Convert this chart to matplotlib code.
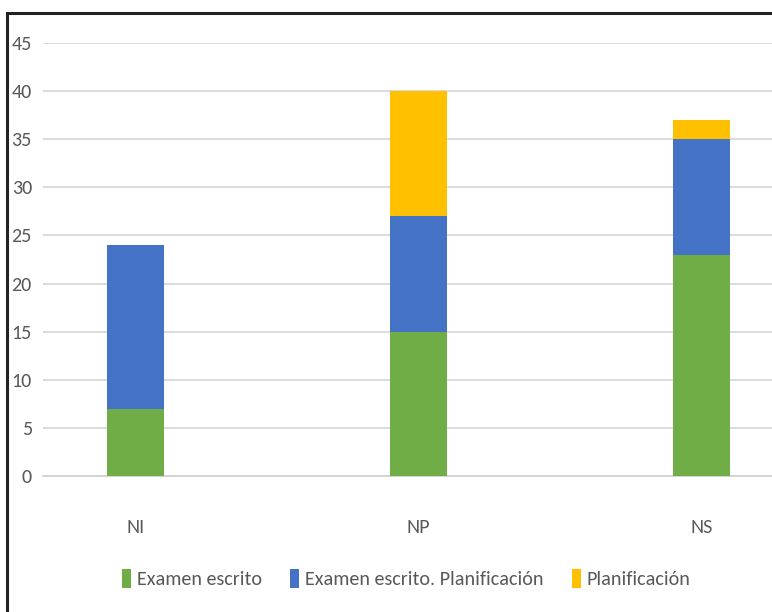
import matplotlib
matplotlib.use("Agg")
import matplotlib.pyplot as plt
from matplotlib.patches import Rectangle
import numpy as np

categories = ["NI", "NP", "NS"]
series_names = ["Examen escrito", "Examen escrito. Planificación", "Planificación"]
examen = [7, 15, 23]
examen_plan = [17, 12, 12]
planif = [0, 13, 2]
colors = ["#70AD47", "#4472C4", "#FFC000"]
yticks = [0, 5, 10, 15, 20, 25, 30, 35, 40, 45]

plt.rcParams['font.family'] = ['Carlito', 'DejaVu Sans']

fig = plt.figure(figsize=(7.72, 6.12), dpi=100)
ax = fig.add_axes([0.0557, 0.2222, 0.9443, 0.7075])

x = np.arange(len(categories))
w = 0.2
bottom = np.zeros(len(categories))
for vals, name, c in zip([examen, examen_plan, planif], series_names, colors):
    ax.bar(x, vals, w, bottom=bottom, color=c, label=name, zorder=3)
    bottom += np.array(vals)

ax.set_xlim(-0.326, 2.25)
ax.set_ylim(0, 45)
ax.set_yticks(yticks)
ax.set_xticks(x)
ax.set_xticklabels(categories)
ax.grid(axis='y', color='#D9D9D9', linewidth=1.3, zorder=0)
for s in ['top', 'right', 'left']:
    ax.spines[s].set_visible(False)
ax.spines['bottom'].set_color('#D0D0D0')
ax.spines['bottom'].set_linewidth(1.3)
ax.tick_params(axis='both', length=0, labelsize=14.5, labelcolor='#595959')
ax.tick_params(axis='y', pad=8)
ax.tick_params(axis='x', pad=31)

leg = fig.legend(loc='center', bbox_to_anchor=(0.526, 0.055), ncol=3, frameon=False,
                 fontsize=14.5, handlelength=0.45, handleheight=1.1, handletextpad=0.3,
                 columnspacing=1.4, labelcolor='#595959')

fig.patches.append(Rectangle((7/772, -0.1), 1.2, 1 - 13/612 + 0.1, transform=fig.transFigure,
                             fill=False, edgecolor='#222222', linewidth=2.2))

fig.savefig("out.png", dpi=100)
